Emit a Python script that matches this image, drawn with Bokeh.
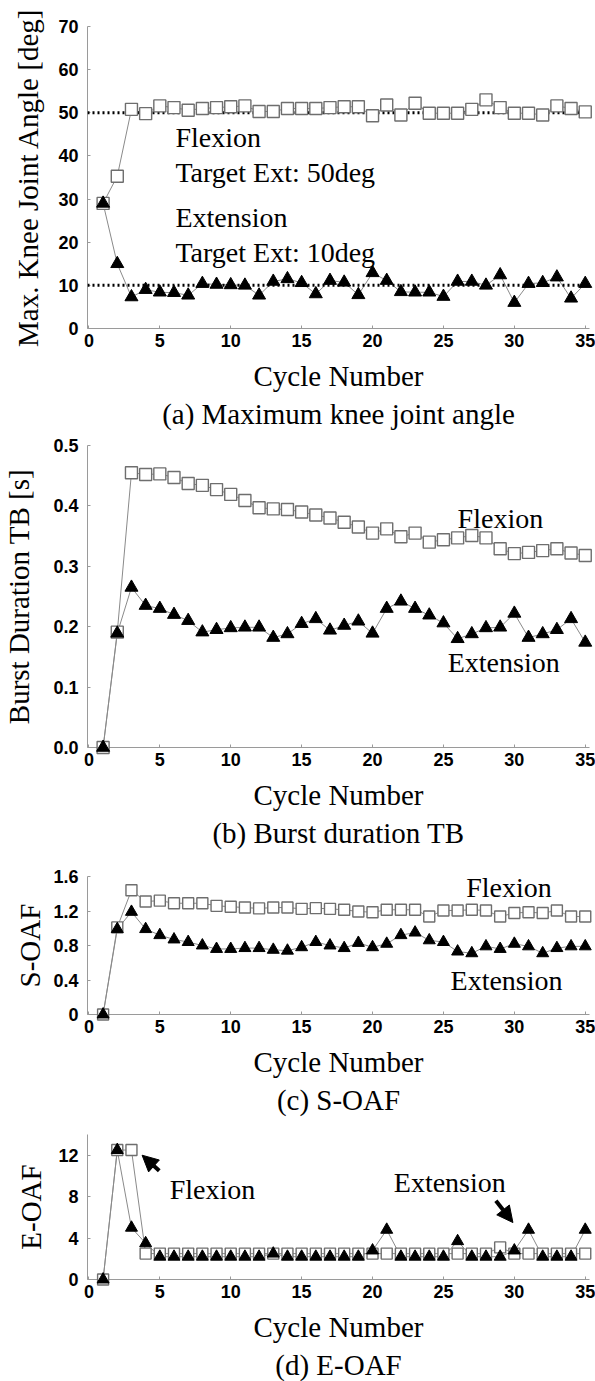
from bokeh.plotting import figure
from bokeh.models import Range1d, FixedTicker, Span, Title, Arrow, NormalHead
from bokeh.layouts import column
from bokeh.embed import file_html
from bokeh.resources import INLINE
from bokeh.core.properties import value

cycles = list(range(1, 36))

angle_flex = [29.0, 35.3, 50.8, 49.8, 51.6, 51.2, 50.6, 51.0, 51.2, 51.4, 51.6, 50.3, 50.3, 51.0,
              51.0, 51.0, 51.2, 51.4, 51.4, 49.3, 51.8, 49.5, 52.2, 49.9, 49.9, 49.9, 50.8, 53.0,
              51.2, 49.9, 49.9, 49.5, 51.6, 51.0, 50.2]
angle_ext = [29.0, 15.0, 7.3, 9.0, 8.4, 8.3, 7.7, 10.4, 10.2, 10.1, 10.0, 7.7, 10.9, 11.5,
             10.6, 8.0, 11.1, 10.7, 7.8, 12.9, 11.1, 8.5, 8.4, 8.4, 7.4, 10.9, 10.9, 10.0,
             12.4, 6.0, 10.4, 10.6, 11.9, 7.0, 10.4]
angle_targets = [50, 10]

burst_flex = [0.0, 0.191, 0.455, 0.452, 0.453, 0.447, 0.437, 0.434, 0.427, 0.419, 0.409, 0.397,
              0.395, 0.394, 0.390, 0.385, 0.380, 0.373, 0.365, 0.355, 0.362, 0.349, 0.355, 0.340,
              0.344, 0.347, 0.351, 0.347, 0.329, 0.321, 0.323, 0.326, 0.329, 0.322, 0.318]
burst_ext = [0.0, 0.189, 0.265, 0.235, 0.230, 0.220, 0.210, 0.191, 0.195, 0.198, 0.199, 0.199,
             0.182, 0.188, 0.205, 0.213, 0.194, 0.202, 0.209, 0.189, 0.230, 0.242, 0.230, 0.219,
             0.206, 0.180, 0.188, 0.198, 0.199, 0.222, 0.182, 0.188, 0.195, 0.213, 0.174]

soaf_flex = [0.0, 1.01, 1.44, 1.31, 1.32, 1.29, 1.29, 1.29, 1.26, 1.25, 1.24, 1.23, 1.24, 1.24,
             1.225, 1.233, 1.225, 1.214, 1.194, 1.186, 1.214, 1.214, 1.214, 1.136, 1.206, 1.206,
             1.214, 1.206, 1.136, 1.176, 1.186, 1.176, 1.206, 1.136, 1.136]
soaf_ext = [0.0, 0.99, 1.19, 0.99, 0.92, 0.87, 0.84, 0.80, 0.76, 0.76, 0.77, 0.77, 0.75, 0.74,
            0.78, 0.84, 0.80, 0.77, 0.83, 0.78, 0.82, 0.92, 0.95, 0.86, 0.84, 0.73, 0.71, 0.79,
            0.76, 0.82, 0.79, 0.71, 0.77, 0.79, 0.79]

eoaf_flex = [0.0, 12.5, 12.5, 2.5, 2.5, 2.5, 2.5, 2.5, 2.5, 2.5, 2.5, 2.5, 2.5, 2.5,
             2.5, 2.5, 2.5, 2.5, 2.5, 2.5, 2.5, 2.5, 2.5, 2.5, 2.5, 2.5, 2.5, 2.5,
             3.1, 2.5, 2.5, 2.5, 2.5, 2.5, 2.5]
eoaf_ext = [0.0, 12.5, 5.0, 3.5, 2.2, 2.2, 2.2, 2.2, 2.2, 2.2, 2.2, 2.2, 2.5, 2.2,
            2.2, 2.2, 2.2, 2.2, 2.2, 2.8, 4.8, 2.2, 2.2, 2.2, 2.2, 3.7, 2.2, 2.2,
            2.2, 2.8, 4.8, 2.2, 2.2, 2.2, 4.8]

x_ticks = [0, 5, 10, 15, 20, 25, 30, 35]

SERIF = "Liberation Serif"
SANS = "Liberation Sans"
AXIS_GRAY = "#9a9a9a"


def make_panel(height, top, bottom, yr, yticks, ylabel, caption, yl_standoff, overrides=None):
    p = figure(width=595, height=height, x_range=Range1d(-0.1, 35.3), y_range=Range1d(*yr),
               output_backend="svg", toolbar_location=None,
               min_border_left=86, min_border_right=6, min_border_top=top, min_border_bottom=bottom)
    p.outline_line_color = None
    p.grid.visible = False
    p.background_fill_color = "white"
    p.border_fill_color = "white"
    for ax in (p.xaxis[0], p.yaxis[0]):
        ax.axis_line_color = AXIS_GRAY
        ax.axis_line_width = 1
        ax.major_tick_line_color = AXIS_GRAY
        ax.major_tick_in = 3
        ax.major_tick_out = 0
        ax.minor_tick_line_color = None
        ax.major_label_text_font = SANS
        ax.major_label_text_font_style = "bold"
        ax.major_label_text_font_size = "18px"
        ax.major_label_text_color = "black"
        ax.axis_label_text_font = SERIF
        ax.axis_label_text_font_style = "normal"
        ax.axis_label_text_font_size = "29px"
        ax.axis_label_text_color = "black"
    p.xaxis.ticker = FixedTicker(ticks=x_ticks)
    p.yaxis.ticker = FixedTicker(ticks=yticks)
    if overrides:
        p.yaxis.major_label_overrides = overrides
    p.xaxis.major_label_standoff = 5
    p.yaxis.major_label_standoff = 9
    p.xaxis.axis_label = "Cycle Number"
    p.xaxis.axis_label_standoff = 10
    p.yaxis.axis_label = ylabel
    p.yaxis.axis_label_standoff = yl_standoff
    t = Title(text=caption, align="center", text_font=SERIF, text_font_size="29px",
              text_font_style="normal", text_color="black", offset=0, standoff=2)
    p.add_layout(t, "below")
    return p


def series(p, flex, ext, sq=12, tri=13):
    p.line(cycles, flex, line_color="#8a8a8a", line_width=1)
    p.line(cycles, ext, line_color="#8a8a8a", line_width=1)
    p.scatter(cycles, flex, marker="square", size=sq, fill_color="white",
              line_color="#6e6e6e", line_width=1.4, level="overlay")
    p.scatter(cycles, ext, marker="triangle", size=tri, fill_color="black",
              line_color="black", level="overlay")


def note(p, x, y, text, size="28px"):
    p.text([x], [y], text=[text], text_font=value(SERIF), text_font_size=value(size),
           text_baseline="middle", text_align="left", text_color="black", level="overlay")


# (a)
pa = make_panel(430, 26, 100, (0, 70), [0, 10, 20, 30, 40, 50, 60, 70],
                "Max. Knee Joint Angle [deg]", "(a) Maximum knee joint angle", 11)
for tv in angle_targets:
    pa.add_layout(Span(location=tv, dimension="width", line_color="black", line_width=3,
                       line_dash="2 3"))
series(pa, angle_flex, angle_ext)
note(pa, 6.1, 44.2, "Flexion")
note(pa, 6.1, 36.2, "Target Ext: 50deg")
note(pa, 6.1, 25.8, "Extension")
note(pa, 6.1, 17.7, "Target Ext: 10deg")

# (b)
pb = make_panel(430, 15, 113, (0, 0.5), [0, 0.1, 0.2, 0.3, 0.4, 0.5],
                "Burst Duration TB [s]", "(b) Burst duration TB", 15,
                {0: "0.0", 0.1: "0.1", 0.2: "0.2", 0.3: "0.3", 0.4: "0.4", 0.5: "0.5"})
series(pb, burst_flex, burst_ext)
note(pb, 26.0, 0.379, "Flexion")
note(pb, 25.3, 0.141, "Extension")

# (c)
pc = make_panel(260, 16, 106, (0, 1.6), [0, 0.4, 0.8, 1.2, 1.6],
                "S-OAF", "(c) S-OAF", 4, {0: "0"})
series(pc, soaf_flex, soaf_ext, sq=11, tri=12)
note(pc, 26.6, 1.47, "Flexion")
note(pc, 25.5, 0.39, "Extension")

# (d)
pd_ = make_panel(261, 14, 98, (0, 14), [0, 4, 8, 12],
                 "E-OAF", "(d) E-OAF", 8)
series(pd_, eoaf_flex, eoaf_ext, sq=11, tri=12)
note(pd_, 5.7, 8.7, "Flexion")
note(pd_, 21.5, 9.35, "Extension")
pd_.add_layout(Arrow(end=NormalHead(size=16, fill_color="black", line_color="black"),
                     x_start=4.96, y_start=10.5, x_end=3.75, y_end=12.0,
                     line_width=4, line_color="black"))
pd_.add_layout(Arrow(end=NormalHead(size=16, fill_color="black", line_color="black"),
                     x_start=28.7, y_start=7.6, x_end=29.9, y_end=5.5,
                     line_width=4, line_color="black"))

layout = column(pa, pb, pc, pd_, spacing=0)
open("out.html", "w").write(file_html(layout, INLINE))
